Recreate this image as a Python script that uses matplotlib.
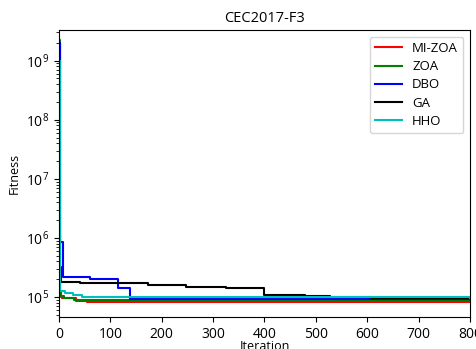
import numpy as np
import matplotlib
matplotlib.use('Agg')
import matplotlib.pyplot as plt

plt.rcParams['font.family'] = ['Open Sans', 'DejaVu Sans']

# step breakpoints (iteration, best fitness)
mizoa_it = [0, 1, 3, 6, 34, 54, 800]
mizoa_val = [2.0e9, 1.1e5, 1.0e5, 9.5e4, 8.5e4, 8.2e4, 8.2e4]

zoa_it = [0, 1, 3, 10, 30, 800]
zoa_val = [2.2e9, 1.2e5, 1.05e5, 9.5e4, 9.0e4, 8.8e4]

dbo_it = [0, 1, 8, 60, 115, 138, 800]
dbo_val = [2.0e9, 8.5e5, 2.2e5, 2.0e5, 1.45e5, 9.3e4, 9.3e4]

ga_it = [0, 1, 3, 41, 173, 248, 326, 400, 479, 527, 608, 800]
ga_val = [1.0e9, 3.2e5, 1.8e5, 1.7e5, 1.6e5, 1.5e5, 1.42e5, 1.1e5, 1.05e5, 1.01e5, 9.8e4, 9.8e4]

hho_it = [0, 2, 12, 27, 44, 800]
hho_val = [1.0e9, 1.25e5, 1.17e5, 1.1e5, 1.0e5, 9.8e4]

series = [('MI-ZOA', mizoa_it, mizoa_val, 'r'),
          ('ZOA', zoa_it, zoa_val, 'g'),
          ('DBO', dbo_it, dbo_val, 'b'),
          ('GA', ga_it, ga_val, 'k'),
          ('HHO', hho_it, hho_val, 'c')]

fig = plt.figure(figsize=(4.77, 3.49), dpi=100)
ax = fig.add_axes([0.1237, 0.0917, 0.8616, 0.8223])
for name, it, val, c in series:
    ax.plot(it, val, drawstyle='steps-post', color=c, lw=1.5, label=name)

ax.legend(loc='upper right', fontsize=9.5, labelspacing=0.4)
ax.set_yscale('log')
ax.set_xlim(0, 800)
ax.set_ylim(4.6e4, 3.3e9)
ax.set_title('CEC2017-F3', fontsize=10.5)
ax.set_xlabel('Iteration', fontsize=9, labelpad=-1)
ax.set_ylabel('Fitness', fontsize=9)
ax.tick_params(labelsize=10)
fig.savefig('out.png', dpi=100)
